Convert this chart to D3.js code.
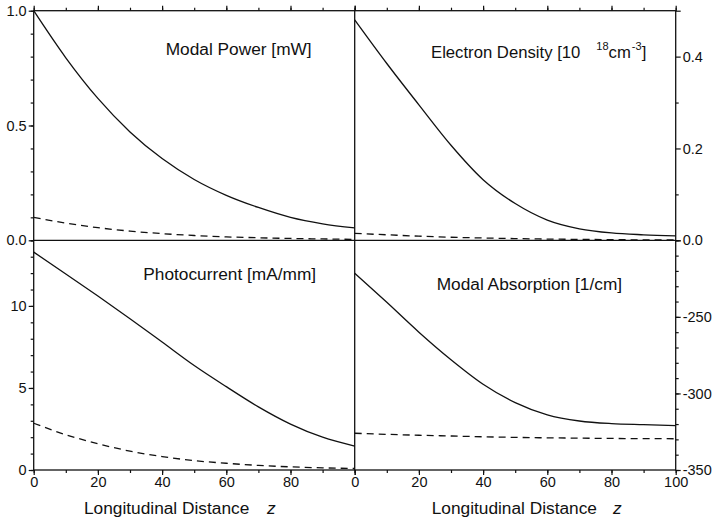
<!DOCTYPE html>
<html>
<head>
<meta charset="utf-8">
<script src="https://cdn.jsdelivr.net/npm/d3@7"></script>
<style>
  html, body { margin: 0; padding: 0; background: #fff; }
  svg text { font-family: "Liberation Sans", Arial, Helvetica, sans-serif; fill: #111; }
</style>
</head>
<body>
<div id="container"></div>
<script>
// longitudinal positions (every 10)
const zValues = [0, 10, 20, 30, 40, 50, 60, 70, 80, 90, 100]

// modal power [mW]
const powerSolid = [1.0, 0.795, 0.618, 0.472, 0.356, 0.265, 0.196, 0.143, 0.100, 0.072, 0.054]
const powerDashed = [0.100, 0.075, 0.055, 0.040, 0.029, 0.021, 0.015, 0.011, 0.008, 0.006, 0.004]

// electron density [10^18 cm^-3]
const densitySolid = [0.480, 0.385, 0.295, 0.207, 0.132, 0.080, 0.044, 0.025, 0.016, 0.012, 0.0095]
const densityDashed = [0.015, 0.012, 0.009, 0.0066, 0.005, 0.0037, 0.0027, 0.002, 0.0014, 0.001, 0.0008]

// photocurrent [mA/mm]
const currentSolid = [13.28, 11.95, 10.6, 9.22, 7.8, 6.37, 5.08, 3.85, 2.8, 2.0, 1.46]
const currentDashed = [2.85, 2.15, 1.6, 1.15, 0.82, 0.57, 0.41, 0.28, 0.19, 0.13, 0.09]

// modal absorption [1/cm]
const absorptionSolid = [-221.5, -240.5, -260, -278, -294, -306, -314, -318, -319.7, -320.4, -321]
const absorptionDashed = [-326, -326.7, -327.3, -327.8, -328.3, -328.7, -329, -329.2, -329.4, -329.5, -329.6]

// tick labels
const xTickLabels = [0, 20, 40, 60, 80, 100]
const powerTicks = [0, 0.5, 1.0]
const densityTicks = [0, 0.2, 0.4]
const currentTicks = [0, 5, 10]
const absorptionTicks = [-350, -300, -250]

// Declare the chart dimensions
const width = 712
const height = 520
const frameLeft = 33.7
const frameMid = 354.7
const frameRight = 675.7
const frameTop = 10.7
const frameMiddle = 240.3
const frameBottom = 470

const xLeft = d3.scaleLinear().domain([0, 100]).range([frameLeft, frameMid])
const xRight = d3.scaleLinear().domain([0, 100]).range([frameMid, frameRight])

const yPower = d3.scaleLinear().domain([0, 1.0]).range([frameMiddle, frameTop])
const yDensity = d3.scaleLinear().domain([0, 0.5]).range([frameMiddle, frameTop])
const yCurrent = d3.scaleLinear().domain([0, 14]).range([frameBottom, frameMiddle])
const yAbsorption = d3.scaleLinear().domain([-350, -200]).range([frameBottom, frameMiddle])

const svg = d3.create('svg')
    .attr('width', width)
    .attr('height', height)

const tickFont = '14.5px'

// helper: draw an axis with major + minor ticks, no domain line
function drawAxis(axisFn, scale, translate, major, minor, fmt, majorSize, minorSize) {
  svg.append('g')
      .attr('transform', translate)
      .call(axisFn(scale).tickValues(minor).tickSize(minorSize).tickFormat(''))
      .call(g => g.select('.domain').remove())
  const g = svg.append('g')
      .attr('transform', translate)
      .call(axisFn(scale).tickValues(major).tickSize(majorSize).tickPadding(2).tickFormat(fmt))
      .call(g => g.select('.domain').remove())
  g.selectAll('text').style('font-size', tickFont).attr('fill', '#111')
  svg.selectAll('.tick line').attr('stroke', '#111').attr('stroke-width', 1.2)
  return g
}

const minorX = d3.range(0, 101, 10)

// bottom x-axes
drawAxis(d3.axisBottom, xLeft, `translate(0,${frameBottom})`, xTickLabels, minorX,
  d => d === 100 ? '' : d, 5, 3)
drawAxis(d3.axisBottom, xRight, `translate(0,${frameBottom})`, xTickLabels, minorX, d => d, 5, 3)
// top x ticks (no labels)
drawAxis(d3.axisTop, xLeft, `translate(0,${frameTop})`, xTickLabels, minorX, '', 5, 3)
drawAxis(d3.axisTop, xRight, `translate(0,${frameTop})`, xTickLabels, minorX, '', 5, 3)

// left y-axes
drawAxis(d3.axisLeft, yPower, `translate(${frameLeft},0)`, powerTicks, d3.range(0, 1.01, 0.1),
  d3.format('.1f'), 5, 3)
drawAxis(d3.axisLeft, yCurrent, `translate(${frameLeft},0)`, currentTicks, d3.range(0, 14.01, 1),
  d => d, 5, 3)
// right y-axes
drawAxis(d3.axisRight, yDensity, `translate(${frameRight},0)`, densityTicks.concat([0.5]), [0.1, 0.3],
  d => d === 0.5 ? '' : d3.format('.1f')(d), 5, 3)
drawAxis(d3.axisRight, yAbsorption, `translate(${frameRight},0)`, absorptionTicks.concat([-200]),
  d3.range(-350, -199, 10), d => d === -200 ? '' : String(d), 5, 3)

// frame lines
const frame = svg.append('g')
    .attr('stroke', '#111')
    .attr('stroke-width', 1.3)
    .attr('fill', 'none')
frame.append('rect')
    .attr('x', frameLeft).attr('y', frameTop)
    .attr('width', frameRight - frameLeft).attr('height', frameBottom - frameTop)
frame.append('line').attr('x1', frameMid).attr('x2', frameMid).attr('y1', frameTop).attr('y2', frameBottom)
frame.append('line').attr('x1', frameLeft).attr('x2', frameRight).attr('y1', frameMiddle).attr('y2', frameMiddle)

// ---------- curves -------------------------------
function drawCurve(xs, ys, values, dashed) {
  const line = d3.line()
      .x((d, i) => xs(zValues[i]))
      .y(d => ys(d))
      .curve(d3.curveMonotoneX)
  svg.append('path')
      .datum(values)
      .attr('d', line)
      .attr('fill', 'none')
      .attr('stroke', '#111')
      .attr('stroke-width', 1.3)
      .attr('stroke-dasharray', dashed ? '7,5' : null)
}

drawCurve(xLeft, yPower, powerSolid, false)
drawCurve(xLeft, yPower, powerDashed, true)
drawCurve(xRight, yDensity, densitySolid, false)
drawCurve(xRight, yDensity, densityDashed, true)
drawCurve(xLeft, yCurrent, currentSolid, false)
drawCurve(xLeft, yCurrent, currentDashed, true)
drawCurve(xRight, yAbsorption, absorptionSolid, false)
drawCurve(xRight, yAbsorption, absorptionDashed, true)

// panel titles
const titleSize = '17.3px'
svg.append('text').attr('x', 165.7).attr('y', 55).style('font-size', titleSize)
    .text('Modal Power [mW]')
svg.append('text').attr('x', 143.3).attr('y', 280).style('font-size', titleSize)
    .text('Photocurrent [mA/mm]')
svg.append('text').attr('x', 436.7).attr('y', 290).style('font-size', titleSize)
    .text('Modal Absorption [1/cm]')

const dens = svg.append('text').attr('x', 431).attr('y', 58.3).style('font-size', '16.7px')
dens.append('tspan').text('Electron Density [10')
dens.append('tspan').attr('dx', 16).attr('dy', -8.3).style('font-size', '11px').text('18')
dens.append('tspan').attr('dy', 8.3).text('cm')
dens.append('tspan').attr('dy', -8.3).attr('dx', 1).style('font-size', '11px').text('-3')
dens.append('tspan').attr('dy', 8.3).text(']')

// x axis labels
function xLabel(x0, zx) {
  svg.append('text').attr('x', x0).attr('y', 514).style('font-size', titleSize)
      .text('Longitudinal Distance')
  svg.append('text').attr('x', zx).attr('y', 514).style('font-size', titleSize)
      .style('font-style', 'italic').text('z')
}
xLabel(84, 267)
xLabel(431.7, 613)

d3.select('#container').append(() => svg.node())
</script>
</body>
</html>
